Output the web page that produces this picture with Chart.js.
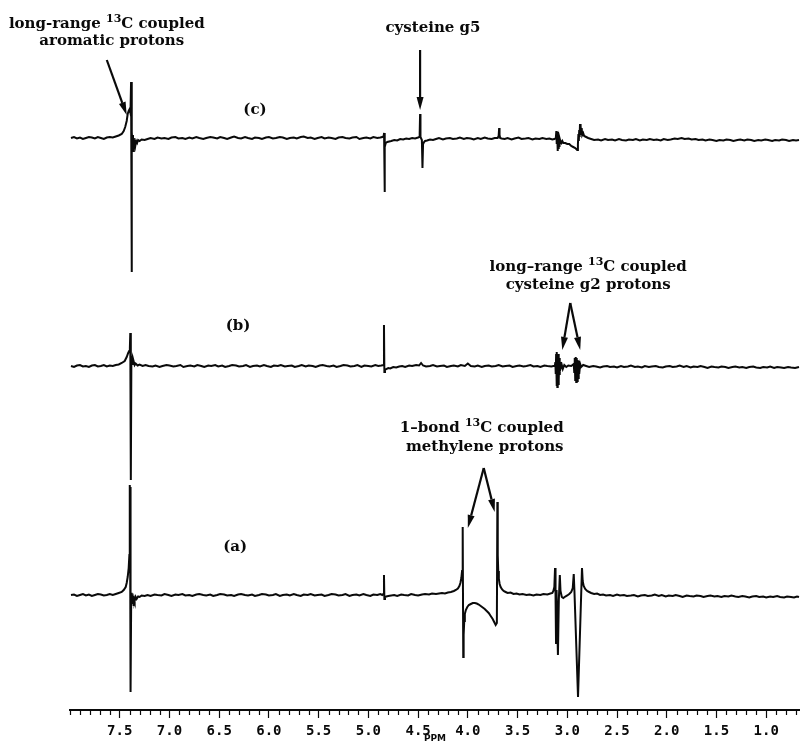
<!DOCTYPE html>
<html>
<head>
<meta charset="utf-8">
<script src="https://cdn.jsdelivr.net/npm/chart.js@4.4.1/dist/chart.umd.min.js"></script>
<style>
  html, body { margin: 0; padding: 0; background: #fff; }
  canvas { display: block; }
</style>
</head>
<body>
<canvas id="nmrChart" width="800" height="744"></canvas>
<script>
// [chemical shift (ppm), intensity above the trace baseline]
const traceC = [
  [7.99, 0], [7.96, 1], [7.93, -0.5], [7.90, 0.5], [7.87, -1], [7.84, 0], [7.81, 1], [7.78, 0.5],
  [7.75, -0.5], [7.72, 1], [7.69, 0], [7.66, -1], [7.63, 0.5], [7.60, 1], [7.57, 0.5], [7.54, 1.5],
  [7.51, 2.5], [7.48, 4], [7.46, 7], [7.445, 11], [7.43, 17], [7.42, 24], [7.41, 27], [7.40, 29],
  [7.392, 25], [7.386, 56], [7.381, -134], [7.377, 6], [7.372, -7], [7.367, 3], [7.362, -13],
  [7.358, 0], [7.354, -9], [7.348, -2], [7.342, -7], [7.335, -3], [7.325, -5], [7.315, -2],
  [7.30, -3], [7.28, -1.5], [7.25, -2],
  [7.22, -1], [7.19, 0], [7.15, -1], [7.12, 0.5], [7.08, -0.5], [7.05, 0], [7.01, -1], [6.98, 0.5],
  [6.94, 1], [6.91, -0.5], [6.87, 0], [6.84, -1], [6.80, 0.5], [6.77, -0.5], [6.73, 1], [6.70, 0],
  [6.66, -1], [6.63, 0], [6.59, 1], [6.56, 0.5], [6.52, -0.5], [6.49, 1], [6.45, 0], [6.42, -1],
  [6.38, 0.5], [6.35, 1.5], [6.31, 0], [6.28, -0.5], [6.24, 1], [6.21, 0], [6.17, -1], [6.14, 0.5],
  [6.10, 0], [6.07, -1], [6.03, 0.5], [6.00, 1], [5.96, -0.5], [5.93, 0], [5.89, 1], [5.86, 0.5],
  [5.82, -1], [5.79, 0], [5.75, 0.5], [5.72, -0.5], [5.68, 1], [5.65, 1.5], [5.61, 0], [5.58, 0.5],
  [5.54, -1], [5.51, 0], [5.47, 1], [5.44, -0.5], [5.40, 0.5], [5.37, 0], [5.33, -1], [5.30, 0.5],
  [5.26, 1], [5.23, 0], [5.19, -0.5], [5.16, 0.5], [5.12, 1], [5.09, -1], [5.05, 0], [5.02, 0.5],
  [4.98, -0.5], [4.95, 1], [4.91, 0], [4.88, 0.5], [4.86, 1],
  [4.846, 2], [4.842, 5], [4.838, -54], [4.833, -9], [4.825, -5], [4.81, -4], [4.79, -3.5],
  [4.77, -3], [4.74, -2], [4.71, -2.5], [4.68, -1], [4.65, -1.5], [4.62, -0.5], [4.59, -1],
  [4.56, 0], [4.53, -0.5], [4.50, 0.5],
  [4.49, 1], [4.484, 4], [4.48, 24], [4.476, 1], [4.462, -2], [4.456, -30], [4.45, -6], [4.44, -4],
  [4.43, -3], [4.41, -2.5], [4.38, -1.5], [4.35, -2],
  [4.32, -1], [4.29, 0], [4.25, -1.5], [4.22, -0.5], [4.18, 0], [4.15, -1], [4.11, -0.5], [4.08, 0.5],
  [4.04, -1], [4.01, 0], [3.97, -0.5], [3.94, -1.5], [3.90, 0], [3.87, -1], [3.83, 0.5], [3.80, -0.5],
  [3.76, -1], [3.73, 0],
  [3.70, 0], [3.69, 2], [3.685, 10], [3.681, 3], [3.675, 0], [3.66, -0.5],
  [3.63, -1], [3.60, 0], [3.56, -1.5], [3.53, -0.5], [3.49, 0.5], [3.46, -1], [3.42, -0.5], [3.39, 0],
  [3.35, -1.5], [3.32, -0.5], [3.28, -1], [3.25, 0], [3.21, -1], [3.18, -0.5], [3.15, -1.5],
  [3.13, -1], [3.115, 0], [3.11, 7], [3.106, -6], [3.102, 6], [3.098, -13], [3.094, 4], [3.09, -10],
  [3.086, 3], [3.082, -8], [3.078, 0], [3.07, -3], [3.06, -5], [3.05, -3], [3.04, -5], [3.02, -5],
  [3.00, -6], [2.98, -6], [2.96, -8], [2.94, -9], [2.92, -10], [2.90, -12], [2.893, -6], [2.888, 4],
  [2.884, -3], [2.88, 8], [2.876, 1], [2.872, 14], [2.868, 6], [2.864, 12], [2.86, 4], [2.855, 10],
  [2.85, 3], [2.84, 5], [2.83, 2], [2.81, 1], [2.79, 0],
  [2.76, -1], [2.73, -2], [2.69, -1.5], [2.66, -2.5], [2.62, -1], [2.59, -2], [2.55, -1.5], [2.52, -2.5],
  [2.48, -1], [2.45, -2], [2.41, -2.5], [2.38, -1.5], [2.34, -2], [2.31, -1], [2.27, -2.5], [2.24, -1.5],
  [2.20, -2], [2.17, -1], [2.13, -2], [2.10, -1.5], [2.06, -2.5], [2.03, -1], [1.99, -2], [1.96, -1.5],
  [1.92, -0.5], [1.89, -1], [1.85, 0], [1.82, -1], [1.78, -0.5], [1.75, -1.5], [1.71, -1], [1.68, -2],
  [1.64, -1.5], [1.61, -2.5], [1.57, -1.5], [1.54, -2], [1.50, -3], [1.47, -2], [1.43, -2.5], [1.40, -1.5],
  [1.36, -2], [1.33, -3], [1.29, -2], [1.26, -1.5], [1.22, -2.5], [1.19, -1.5], [1.15, -2], [1.12, -3],
  [1.08, -2], [1.05, -2.5], [1.01, -1.5], [0.98, -2], [0.94, -3], [0.91, -2], [0.87, -2.5], [0.84, -1.5],
  [0.80, -2], [0.77, -3], [0.73, -2], [0.70, -2.5], [0.67, -2]
];

const traceB = [
  [7.99, 0], [7.96, -1], [7.93, 0.5], [7.90, 1], [7.87, -0.5], [7.84, 0], [7.81, -1], [7.78, 0.5],
  [7.75, 1], [7.72, -0.5], [7.69, 0], [7.66, 1], [7.63, -0.5], [7.60, 0.5], [7.57, 0], [7.54, 1],
  [7.51, 1.5], [7.48, 3], [7.45, 5], [7.43, 9], [7.415, 13], [7.405, 15], [7.398, 18], [7.394, 33],
  [7.39, 14], [7.387, -114], [7.383, 6], [7.378, 3], [7.372, 7], [7.365, 2], [7.358, 4], [7.35, 1],
  [7.34, 2.5], [7.32, 0.5], [7.30, 1.5], [7.27, 0],
  [7.24, 1], [7.21, 0], [7.17, -0.5], [7.14, 0.5], [7.10, -1], [7.07, 0], [7.03, 1], [7.00, 0.5],
  [6.96, -0.5], [6.93, 0], [6.89, 1], [6.86, -1], [6.82, 0], [6.79, 0.5], [6.75, -0.5], [6.72, 1],
  [6.68, 0], [6.65, -1], [6.61, 0.5], [6.58, 0], [6.54, 1], [6.51, -0.5], [6.47, 0.5], [6.44, -1],
  [6.40, 0], [6.37, 1], [6.33, 0.5], [6.30, -0.5], [6.26, 0], [6.23, 1], [6.19, -1], [6.16, 0],
  [6.12, 0.5], [6.09, -0.5], [6.05, 1], [6.02, 0], [5.98, -1], [5.95, 0.5], [5.91, 0], [5.88, 1],
  [5.84, -0.5], [5.81, 0], [5.77, 0.5], [5.74, -1], [5.70, 0], [5.67, 1], [5.63, -0.5], [5.60, 0.5],
  [5.56, 0], [5.53, -1], [5.49, 0.5], [5.46, 1], [5.42, 0], [5.39, -0.5], [5.35, 0.5], [5.32, -1],
  [5.28, 0], [5.25, 1], [5.21, 0.5], [5.18, -0.5], [5.14, 0], [5.11, 1], [5.07, -1], [5.04, 0.5],
  [5.00, 0], [4.97, -0.5], [4.93, 1], [4.90, 0], [4.87, 0.5],
  [4.85, 1], [4.843, 41], [4.839, -6], [4.833, -4], [4.82, -3], [4.80, -2], [4.78, -2.5], [4.75, -1],
  [4.72, -1.5], [4.69, -0.5],
  [4.66, 0], [4.63, -1], [4.59, 0.5], [4.56, 0], [4.52, 1], [4.49, 0.5], [4.47, 3], [4.45, 0.5],
  [4.42, -0.5], [4.38, 0], [4.35, 1], [4.31, -0.5], [4.28, 0], [4.24, 0.5], [4.21, -1], [4.17, 0],
  [4.14, 0.5], [4.10, -0.5], [4.07, 1], [4.03, 0], [4.00, 2.5], [3.97, 0], [3.93, -0.5], [3.90, 0.5],
  [3.86, -1], [3.83, 0], [3.79, 0.5], [3.76, -0.5], [3.72, 0], [3.69, 1], [3.65, -0.5], [3.62, 0],
  [3.58, 0.5], [3.55, -1], [3.51, 0], [3.48, 0.5], [3.44, -0.5], [3.41, 0], [3.37, 1], [3.34, -0.5],
  [3.30, 0], [3.27, -1], [3.23, 0.5], [3.20, 0], [3.16, -0.5], [3.14, 0],
  [3.125, 0], [3.12, 4], [3.116, -8], [3.112, 12], [3.108, -20], [3.104, 14], [3.10, -21], [3.096, 10],
  [3.092, -18], [3.088, 12], [3.084, -14], [3.08, 8], [3.076, -9], [3.072, 4], [3.065, -2], [3.055, 1],
  [3.045, -3], [3.03, 1], [3.01, -1], [2.99, 0.5], [2.96, 0], [2.935, 2], [2.93, -6], [2.925, 8],
  [2.92, -14], [2.915, 9], [2.91, -16], [2.905, 8], [2.90, -15], [2.895, 6], [2.89, -12], [2.885, 5],
  [2.88, -8], [2.87, 2], [2.86, -1], [2.84, 1],
  [2.81, 0], [2.78, -1], [2.74, 0], [2.71, -0.5], [2.67, -1.5], [2.64, -0.5], [2.60, 0], [2.57, -1],
  [2.53, -0.5], [2.50, -1.5], [2.46, 0], [2.43, -1], [2.39, -0.5], [2.36, 0.5], [2.32, -1], [2.29, -0.5],
  [2.25, -1.5], [2.22, 0], [2.18, -1], [2.15, -0.5], [2.11, 0], [2.08, -1], [2.04, -1.5], [2.01, -0.5],
  [1.97, 0], [1.94, -1], [1.90, -0.5], [1.87, 0.5], [1.83, -1], [1.80, 0], [1.76, -1.5], [1.73, -0.5],
  [1.69, -1], [1.66, 0], [1.62, -1], [1.59, -2], [1.55, -0.5], [1.52, -1], [1.48, -1.5], [1.45, -0.5],
  [1.41, -1], [1.38, -2], [1.34, -1], [1.31, -0.5], [1.27, -1.5], [1.24, -1], [1.20, -2], [1.17, -1],
  [1.13, -0.5], [1.10, -1.5], [1.06, -2], [1.03, -1], [0.99, -1.5], [0.96, -0.5], [0.92, -2], [0.89, -1],
  [0.85, -1.5], [0.82, -2], [0.78, -1], [0.75, -1.5], [0.71, -2], [0.67, -1]
];

const traceA = [
  [7.99, 0], [7.96, 0.5], [7.93, -1], [7.90, 0], [7.87, 1], [7.84, -0.5], [7.81, 0.5], [7.78, -1],
  [7.75, 0], [7.72, 1], [7.69, 0.5], [7.66, -0.5], [7.63, 0], [7.60, 1], [7.57, 0], [7.54, 1],
  [7.51, 2], [7.48, 3], [7.46, 5], [7.44, 8], [7.43, 12], [7.42, 18], [7.41, 27], [7.403, 40],
  [7.399, 110], [7.396, 70], [7.393, 108], [7.389, -97], [7.385, -8], [7.38, 2], [7.375, -1],
  [7.37, -9], [7.365, -3], [7.36, -11], [7.355, -4], [7.35, -6], [7.34, -2], [7.33, -4], [7.315, -1.5],
  [7.30, -2], [7.28, -0.5], [7.25, -1],
  [7.22, 0], [7.19, -1], [7.15, 0.5], [7.12, 0], [7.08, -0.5], [7.05, 1], [7.01, 0], [6.98, -1],
  [6.94, 0.5], [6.91, 0], [6.87, 1], [6.84, -0.5], [6.80, 0], [6.77, -1], [6.73, 0.5], [6.70, 1],
  [6.66, 0], [6.63, -0.5], [6.59, 0.5], [6.56, -1], [6.52, 0], [6.49, 1], [6.45, 0.5], [6.42, -0.5],
  [6.38, 0], [6.35, -1], [6.31, 0.5], [6.28, 1], [6.24, 0], [6.21, -0.5], [6.17, 0.5], [6.14, -1],
  [6.10, 0], [6.07, 1], [6.03, 0.5], [6.00, -0.5], [5.96, 0], [5.93, 1], [5.89, -1], [5.86, 0],
  [5.82, 0.5], [5.79, -0.5], [5.75, 1], [5.72, 0], [5.68, -1], [5.65, 0.5], [5.61, 0], [5.58, 1],
  [5.54, -0.5], [5.51, 0], [5.47, 0.5], [5.44, -1], [5.40, 0], [5.37, 1], [5.33, 0.5], [5.30, -0.5],
  [5.26, 0], [5.23, 1], [5.19, -1], [5.16, 0], [5.12, 0.5], [5.09, -0.5], [5.05, 1], [5.02, 0],
  [4.98, -1], [4.95, 0.5], [4.91, 0], [4.88, 1],
  [4.86, 0], [4.85, 1], [4.843, 20], [4.839, -4], [4.833, -2], [4.82, -1.5], [4.80, -1], [4.77, -0.5],
  [4.74, 0], [4.71, -1], [4.67, 0.5], [4.64, 0], [4.60, -0.5], [4.57, 1], [4.53, 0], [4.50, -0.5],
  [4.46, 0.5], [4.43, 1], [4.39, 0.5], [4.36, 1.5], [4.32, 1], [4.29, 1.5], [4.26, 2], [4.23, 1.5],
  [4.20, 2.5], [4.17, 3], [4.14, 4], [4.12, 5], [4.10, 6.5], [4.085, 9], [4.075, 12], [4.065, 17],
  [4.058, 24], [4.053, 35], [4.05, 68], [4.046, -62], [4.042, -40], [4.036, -26], [4.03, -19],
  [4.02, -15], [4.005, -12], [3.99, -10], [3.97, -9], [3.95, -8], [3.93, -8], [3.91, -8.5],
  [3.89, -9.5], [3.87, -11], [3.85, -12.5], [3.83, -14], [3.81, -16], [3.79, -18], [3.77, -21],
  [3.75, -24], [3.735, -27], [3.72, -30], [3.708, -28], [3.703, 93], [3.699, 40], [3.694, 24],
  [3.688, 16], [3.68, 11], [3.67, 8], [3.655, 5.5], [3.64, 4], [3.62, 3], [3.60, 2], [3.57, 2.5],
  [3.54, 1], [3.51, 1.5], [3.48, 0.5], [3.45, 1], [3.41, 0], [3.38, 0.5], [3.34, -0.5], [3.31, 0.5],
  [3.27, 0], [3.24, 1], [3.20, 0.5], [3.17, 1.5],
  [3.15, 2], [3.14, 4], [3.13, 8], [3.123, 27], [3.118, 0], [3.113, -48], [3.108, 5], [3.094, -60],
  [3.085, -5], [3.075, 20], [3.068, 4], [3.055, -2], [3.04, -3], [3.02, -1.5], [3.00, -0.5], [2.98, 1],
  [2.96, 3], [2.945, 7], [2.935, 21], [2.928, 4], [2.892, -102], [2.852, 27], [2.845, 14], [2.835, 9],
  [2.82, 6], [2.80, 4], [2.78, 3], [2.76, 2], [2.73, 1], [2.70, 1.5], [2.67, 0],
  [2.64, 0.5], [2.61, -0.5], [2.57, 0], [2.54, -1], [2.50, 0.5], [2.47, -0.5], [2.43, 0], [2.40, -1],
  [2.36, -0.5], [2.33, 0], [2.29, -1.5], [2.26, -0.5], [2.22, 0], [2.19, -1], [2.15, -0.5], [2.12, 0.5],
  [2.08, -1], [2.05, 0], [2.01, -1.5], [1.98, -0.5], [1.94, -1], [1.91, 0], [1.87, -1], [1.84, -2],
  [1.80, -0.5], [1.77, -1], [1.73, -1.5], [1.70, -0.5], [1.66, -1], [1.63, -2], [1.59, -1], [1.56, -0.5],
  [1.52, -1.5], [1.49, -1], [1.45, -2], [1.42, -1], [1.38, -1.5], [1.35, -0.5], [1.31, -1.5], [1.28, -2],
  [1.24, -1], [1.21, -1.5], [1.17, -2.5], [1.14, -1.5], [1.10, -1], [1.07, -2], [1.03, -1.5], [1.00, -2.5],
  [0.96, -1.5], [0.93, -2], [0.89, -1], [0.86, -2], [0.82, -2.5], [0.79, -1.5], [0.75, -2], [0.72, -2.5],
  [0.69, -1.5], [0.67, -2]
];

const tickValues = [7.5, 7.0, 6.5, 6.0, 5.5, 5.0, 4.5, 4.0, 3.5, 3.0, 2.5, 2.0, 1.5, 1.0];
const traceLabels = ["(c)", "(b)", "(a)"];

// text blocks: position is (ppm, height above the trace baseline); [..] marks superscript
const notes = [
  { axis: "yC", ppm: 7.63, at: 114, text: ["long-range ", ["13"], "C coupled"] },
  { axis: "yC", ppm: 7.58, at: 97, text: ["aromatic protons"] },
  { axis: "yC", ppm: 4.35, at: 110, text: ["cysteine g5"] },
  { axis: "yC", ppm: 6.14, at: 28, text: [traceLabels[0]] },
  { axis: "yB", ppm: 6.31, at: 40, text: [traceLabels[1]] },
  { axis: "yB", ppm: 2.79, at: 99, text: ["long\u2013range ", ["13"], "C coupled"] },
  { axis: "yB", ppm: 2.79, at: 81, text: ["cysteine g2 protons"] },
  { axis: "yA", ppm: 6.34, at: 48, text: [traceLabels[2]] },
  { axis: "yA", ppm: 3.86, at: 167, text: ["1\u2013bond ", ["13"], "C coupled"] },
  { axis: "yA", ppm: 3.83, at: 148, text: ["methylene protons"] }
];

const arrows = [
  { axis: "yC", from: [7.63, 78], to: [7.43, 23] },
  { axis: "yC", from: [4.48, 88], to: [4.48, 28] },
  { axis: "yB", from: [2.97, 63], to: [3.05, 16] },
  { axis: "yB", from: [2.97, 63], to: [2.87, 16] },
  { axis: "yA", from: [3.84, 127], to: [4.00, 67] },
  { axis: "yA", from: [3.84, 127], to: [3.73, 83] }
];

const ink = "#0a0a0a";
const serif = "'DejaVu Serif', 'Liberation Serif', serif";

function drawRich(ctx, parts, cx, cy) {
  const base = "bold 15px " + serif;
  const small = "bold 11px " + serif;
  let w = 0;
  parts.forEach((p) => {
    ctx.font = Array.isArray(p) ? small : base;
    w += ctx.measureText(Array.isArray(p) ? p[0] : p).width;
  });
  let x = cx - w / 2;
  parts.forEach((p) => {
    const sup = Array.isArray(p);
    const t = sup ? p[0] : p;
    ctx.font = sup ? small : base;
    ctx.fillText(t, x, sup ? cy - 5 : cy);
    x += ctx.measureText(t).width;
  });
}

function drawArrow(ctx, x1, y1, x2, y2) {
  const ang = Math.atan2(y2 - y1, x2 - x1);
  const head = 13, half = 3.5;
  const bx = x2 - head * Math.cos(ang);
  const by = y2 - head * Math.sin(ang);
  ctx.beginPath();
  ctx.moveTo(x1, y1);
  ctx.lineTo(bx, by);
  ctx.stroke();
  ctx.beginPath();
  ctx.moveTo(x2, y2);
  ctx.lineTo(bx + half * Math.sin(ang), by - half * Math.cos(ang));
  ctx.lineTo(bx - half * Math.sin(ang), by + half * Math.cos(ang));
  ctx.closePath();
  ctx.fill();
}

const spectrumDecor = {
  id: "spectrumDecor",
  afterDraw(chart) {
    const ctx = chart.ctx;
    const xs = chart.scales.x;
    const bottom = chart.chartArea.bottom;
    ctx.save();
    ctx.strokeStyle = ink;
    ctx.fillStyle = ink;

    // minor ruler ticks every 0.1 ppm
    ctx.lineWidth = 1.2;
    for (let i = 80; i >= 7; i--) {
      if (i % 5 === 0 && i <= 75 && i >= 10) continue;
      const px = Math.round(xs.getPixelForValue(i / 10)) + 0.5;
      ctx.beginPath();
      ctx.moveTo(px, bottom);
      ctx.lineTo(px, bottom + 5);
      ctx.stroke();
    }

    ctx.lineWidth = 2.2;
    arrows.forEach((a) => {
      const ys = chart.scales[a.axis];
      drawArrow(ctx,
        xs.getPixelForValue(a.from[0]), ys.getPixelForValue(a.from[1]),
        xs.getPixelForValue(a.to[0]), ys.getPixelForValue(a.to[1]));
    });

    ctx.textBaseline = "middle";
    ctx.textAlign = "left";
    notes.forEach((n) => {
      const ys = chart.scales[n.axis];
      drawRich(ctx, n.text, xs.getPixelForValue(n.ppm), ys.getPixelForValue(n.at));
    });
    ctx.restore();
  }
};

function makeTrace(points, axisId) {
  return {
    data: points.map(([x, y]) => ({ x, y })),
    yAxisID: axisId,
    borderColor: ink,
    borderWidth: 2,
    pointRadius: 0,
    showLine: true,
    fill: false,
    tension: 0,
    clip: false
  };
}

const ctx = document.getElementById("nmrChart").getContext("2d");
const nmrChart = new Chart(ctx, {
  type: "scatter",
  data: {
    datasets: [
      makeTrace(traceC, "yC"),
      makeTrace(traceB, "yB"),
      makeTrace(traceA, "yA")
    ]
  },
  options: {
    responsive: false,
    animation: false,
    events: [],
    layout: { padding: { left: 70, right: 0, top: 0, bottom: 0 } },
    plugins: { legend: { display: false }, tooltip: { enabled: false } },
    scales: {
      x: {
        type: "linear",
        reverse: true,
        min: 0.66,
        max: 8.0,
        afterBuildTicks: (scale) => {
          scale.ticks = tickValues.map((v) => ({ value: v }));
        },
        afterFit: (scale) => {
          scale.height = 34;
        },
        ticks: {
          callback: (v) => Number(v).toFixed(1),
          font: { family: "'DejaVu Sans Mono', monospace", size: 14, weight: "bold" },
          color: ink,
          padding: 5,
          autoSkip: false,
          maxRotation: 0
        },
        grid: { drawOnChartArea: false, drawTicks: true, tickLength: 8, tickColor: ink, tickWidth: 1.2 },
        border: { display: true, color: ink, width: 2 },
        title: {
          display: true,
          text: "PPM",
          color: ink,
          font: { family: "'DejaVu Sans', sans-serif", size: 9, weight: "bold" },
          padding: { top: 0, bottom: 0 }
        }
      },
      yC: { display: false, min: -572, max: 138 },
      yB: { display: false, min: -344, max: 366 },
      yA: { display: false, min: -115, max: 595 }
    }
  },
  plugins: [spectrumDecor]
});
</script>
</body>
</html>
